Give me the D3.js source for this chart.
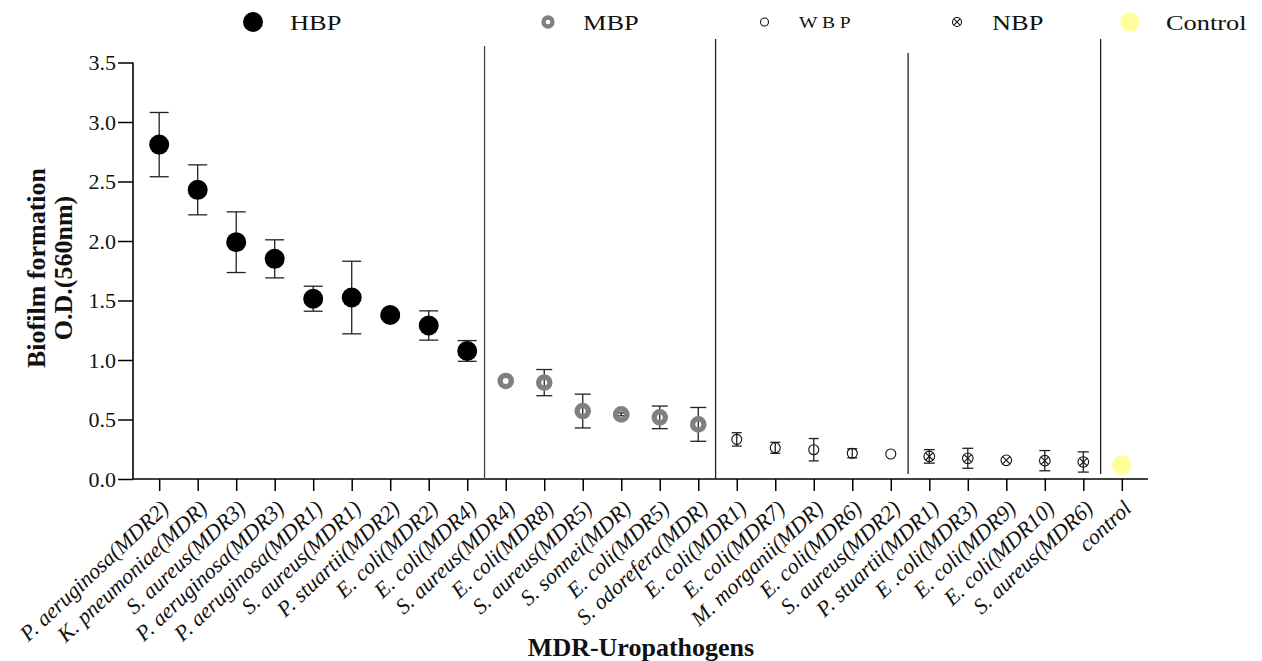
<!DOCTYPE html>
<html>
<head>
<meta charset="utf-8">
<script src="https://cdn.jsdelivr.net/npm/d3@7"></script>
<style>
  html, body { margin: 0; padding: 0; background: #fff; }
  svg { display: block; font-family: "Liberation Serif", "Times New Roman", serif; }
</style>
</head>
<body>
<svg id="chart" width="1262" height="661"></svg>
<script>
// Isolates, in plotted order
const categories = [
  "P. aeruginosa(MDR2)", "K. pneumoniae(MDR)", "S. aureus(MDR3)", "P. aeruginosa(MDR3)",
  "P. aeruginosa(MDR1)", "S. aureus(MDR1)", "P. stuartii(MDR2)", "E. coli(MDR2)", "E. coli(MDR4)",
  "S. aureus(MDR4)", "E. coli(MDR8)", "S. aureus(MDR5)", "S. sonnei(MDR)", "E. coli(MDR5)",
  "S. odorefera(MDR)",
  "E. coli(MDR1)", "E. coli(MDR7)", "M. morganii(MDR)", "E. coli(MDR6)", "S. aureus(MDR2)",
  "P. stuartii(MDR1)", "E .coli(MDR3)", "E. coli(MDR9)", "E. coli(MDR10)", "S. aureus(MDR6)",
  "control"
];
// Biofilm class of each isolate
const groupNames = ["HBP", "MBP", "WBP", "NBP", "Control"];
const groupSizes = [9, 6, 5, 5, 1];
const legendLabels = ["HBP", "MBP", "W B P", "NBP", "Control"];
// Mean O.D. (560 nm) and error
const means = [2.81, 2.43, 1.99, 1.85, 1.515, 1.525, 1.378, 1.29, 1.076,
               0.824, 0.81, 0.571, 0.543, 0.518, 0.459,
               0.333, 0.262, 0.246, 0.216, 0.21,
               0.19, 0.174, 0.157, 0.154, 0.143,
               0.115];
const errors = [0.27, 0.21, 0.255, 0.16, 0.105, 0.305, 0.02, 0.123, 0.087,
                0.0, 0.11, 0.142, 0.012, 0.095, 0.142,
                0.056, 0.046, 0.094, 0.038, 0.0,
                0.057, 0.084, 0.0, 0.085, 0.085,
                0.0];
const yTicks = [0, 0.5, 1.0, 1.5, 2.0, 2.5, 3.0, 3.5];

const groupOf = [];
groupSizes.forEach((n, g) => { for (let i = 0; i < n; i++) groupOf.push(groupNames[g]); });
const data = categories.map((c, i) => ({ name: c, mean: means[i], err: errors[i], group: groupOf[i] }));

const svg = d3.select("#chart");

const x = d3.scalePoint().domain(categories).range([133, 1148]).padding(0.68);
const y = d3.scaleLinear().domain([0, 3.5]).range([479, 62.5]);

// marker styling per class
const capHalf = { HBP: 9.5, MBP: 8, WBP: 5, NBP: 5.5, Control: 0 };

function drawMarker(sel, group, scale) {
  const s = scale || 1;
  if (group === "HBP") {
    sel.append("circle").attr("r", 10 * s).attr("fill", "#000");
  } else if (group === "MBP") {
    sel.append("circle").attr("r", 5.6 * s).attr("fill", "none")
      .attr("stroke", "#808080").attr("stroke-width", 5.4 * s);
  } else if (group === "WBP") {
    sel.append("circle").attr("r", 5 * s).attr("fill", "none")
      .attr("stroke", "#111").attr("stroke-width", 1.1);
  } else if (group === "NBP") {
    const r = 5.3 * s, k = r * 0.68;
    sel.append("circle").attr("r", r).attr("fill", "none")
      .attr("stroke", "#111").attr("stroke-width", 1.1);
    sel.append("path").attr("d", `M${-k},${-k}L${k},${k}M${-k},${k}L${k},${-k}`)
      .attr("stroke", "#111").attr("stroke-width", 1.1);
  } else {
    sel.append("circle").attr("r", 9.8 * s).attr("fill", "#ffff9e");
  }
}

// Axes
const yAxis = svg.append("g").attr("transform", "translate(133,0)")
  .call(d3.axisLeft(y).tickValues(yTicks).tickFormat(d3.format(".1f")).tickSize(15).tickPadding(2));
yAxis.select(".domain").attr("stroke", "#000").attr("stroke-width", 1.6).attr("d", `M0,${y(3.5)}V${y(0)}`);
yAxis.selectAll(".tick line").attr("stroke", "#000").attr("stroke-width", 1.5);
yAxis.selectAll(".tick text").attr("font-family", "Liberation Serif").attr("font-size", 22).attr("fill", "#111");

const xAxis = svg.append("g").attr("transform", `translate(0,${y(0)})`)
  .call(d3.axisBottom(x).tickSize(12).tickFormat(""));
xAxis.select(".domain").attr("stroke", "#000").attr("stroke-width", 1.6).attr("d", "M133,0H1148");
xAxis.selectAll(".tick line").attr("stroke", "#000").attr("stroke-width", 1.5);

// rotated italic isolate labels
svg.append("g").selectAll("text").data(categories).join("text")
  .attr("transform", d => `translate(${x(d) + 11},${y(0) + 31}) rotate(-43)`)
  .attr("text-anchor", "end")
  .attr("font-style", "italic")
  .attr("font-size", 22)
  .attr("fill", "#111")
  .text(d => d);

// class separators
const step = x.step();
let cum = 0;
const sepTops = [46, 39, 53, 39];
const sepBottoms = [y(0), y(0), y(0) - 5, y(0) - 5];
groupSizes.slice(0, -1).forEach((n, g) => {
  cum += n;
  const sx = x(categories[cum - 1]) + step * 0.45;
  svg.append("line").attr("x1", sx).attr("x2", sx)
    .attr("y1", sepTops[g]).attr("y2", sepBottoms[g])
    .attr("stroke", g === 0 ? "#444" : "#222").attr("stroke-width", 1.3);
});

// error bars
const eb = svg.append("g").selectAll("g").data(data.filter(d => d.err > 0)).join("g")
  .attr("stroke", "#222").attr("stroke-width", 1.3);
eb.append("line").attr("x1", d => x(d.name)).attr("x2", d => x(d.name))
  .attr("y1", d => y(d.mean + d.err)).attr("y2", d => y(d.mean - d.err));
eb.append("line").attr("x1", d => x(d.name) - capHalf[d.group]).attr("x2", d => x(d.name) + capHalf[d.group])
  .attr("y1", d => y(d.mean + d.err)).attr("y2", d => y(d.mean + d.err));
eb.append("line").attr("x1", d => x(d.name) - capHalf[d.group]).attr("x2", d => x(d.name) + capHalf[d.group])
  .attr("y1", d => y(d.mean - d.err)).attr("y2", d => y(d.mean - d.err));

// points
svg.append("g").selectAll("g").data(data).join("g")
  .attr("transform", d => `translate(${x(d.name)},${y(d.mean)})`)
  .each(function (d) { drawMarker(d3.select(this), d.group); });

// legend
const legendMarkerX = [253, 548, 764.5, 957, 1130];
const legendTextX = [290, 583, 799, 992, 1166];
const legendMarkerScale = [1, 0.8, 0.8, 0.85, 1];
groupNames.forEach((g, i) => {
  const m = svg.append("g").attr("transform", `translate(${legendMarkerX[i]},22)`);
  drawMarker(m, g, legendMarkerScale[i]);
  const small = g === "WBP";
  svg.append("text")
    .attr("transform", `translate(${legendTextX[i]},${small ? 28 : 30}) scale(${small ? 1.15 : 1.2},1)`)
    .attr("font-size", small ? 17 : 22)
    .attr("fill", "#111")
    .text(legendLabels[i]);
});

// axis titles
svg.append("text")
  .attr("transform", "translate(45,268) rotate(-90)")
  .attr("text-anchor", "middle").attr("font-weight", "bold").attr("font-size", 26).attr("fill", "#111")
  .text("Biofilm formation");
svg.append("text")
  .attr("transform", "translate(72,268) rotate(-90)")
  .attr("text-anchor", "middle").attr("font-weight", "bold").attr("font-size", 26).attr("fill", "#111")
  .text("O.D.(560nm)");
svg.append("text")
  .attr("x", 641).attr("y", 656)
  .attr("text-anchor", "middle").attr("font-weight", "bold").attr("font-size", 26).attr("fill", "#111")
  .text("MDR-Uropathogens");
</script>
</body>
</html>
